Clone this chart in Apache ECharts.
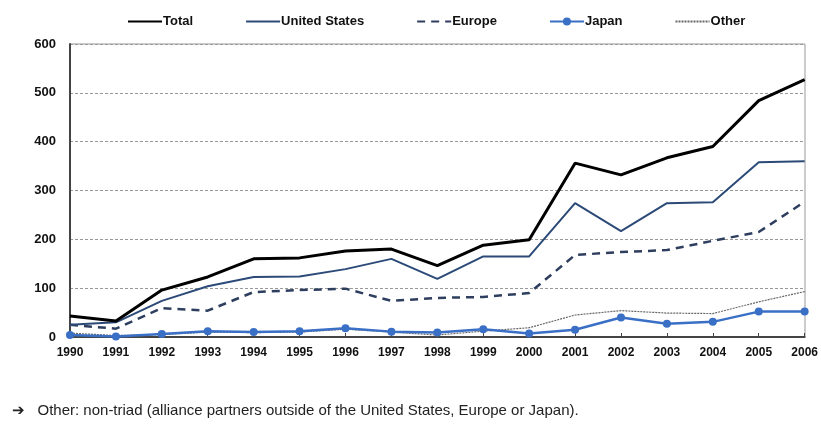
<!DOCTYPE html>
<html>
<head>
<meta charset="utf-8">
<script src="https://cdn.jsdelivr.net/npm/echarts@6/dist/echarts.min.js"></script>
<style>
  body { margin: 0; background: #fff; }
  #main { width: 821px; height: 425px; }
</style>
</head>
<body>
<div id="main"></div>
<script>
// years on the x axis
var years = ['1990','1991','1992','1993','1994','1995','1996','1997','1998',
             '1999','2000','2001','2002','2003','2004','2005','2006'];

// series values
var total  = [43, 33, 96, 123, 160, 162, 176, 180, 146, 188, 199, 356, 332, 367, 390, 484, 527];
var usa    = [25, 30, 74, 104, 123, 124, 139, 160, 119, 165, 165, 274, 217, 274, 276, 358, 360];
var europe = [25, 17, 59, 54, 92, 96, 99, 74, 80, 82, 90, 168, 174, 178, 197, 215, 277];
var japan  = [4, 1, 6, 12, 10, 12, 18, 11, 9, 16, 7, 15, 40, 27, 31, 52, 52];
var other  = [8, 3, 5, 10, 9, 10, 16, 10, 4, 12, 19, 45, 54, 49, 48, 72, 93];

var note = '\u2794   Other: non-triad (alliance partners outside of the United States, Europe or Japan).';

var chart = echarts.init(document.getElementById('main'));

var fnt = '"Liberation Sans Narrow", "Liberation Sans", Arial, sans-serif';

var noMark = { opacity: 0 };

var option = {
	backgroundColor: '#fff',
	animation: false,
	textStyle: { fontFamily: fnt },
	legend: {
		top: 10,
		left: 122,
		itemWidth: 34,
		itemHeight: 10,
		itemGap: 52,
		textStyle: { fontFamily: fnt, fontWeight: 'bold', fontSize: 13, color: '#111', padding: [0, 0, 0, -4] },
		data: [
			{ name: 'Total', itemStyle: noMark },
			{ name: 'United States', itemStyle: noMark },
			{ name: 'Europe', itemStyle: noMark },
			{ name: 'Japan' },
			{ name: 'Other', itemStyle: noMark }
		]
	},
	grid: { left: 70, right: 16, top: 44, bottom: 88 },
	graphic: [{
		type: 'text',
		left: 12,
		top: 403,
		style: { text: note, font: '15px "Liberation Sans", Arial, sans-serif', fill: '#222' }
	}, {
		// plot-area border (top and right)
		type: 'rect',
		shape: { x: 70, y: 44, width: 735, height: 293 },
		style: { fill: 'none', stroke: '#999', lineWidth: 1 },
		silent: true
	}],
	xAxis: {
		type: 'category',
		data: years,
		boundaryGap: false,
		axisLine: { lineStyle: { color: '#444', width: 2 } },
		axisTick: { show: true, inside: true, length: 4, lineStyle: { color: '#444' } },
		axisLabel: { fontFamily: fnt, fontWeight: 'bold', fontSize: 12, color: '#111', margin: 10 }
	},
	yAxis: {
		type: 'value',
		min: 0,
		max: 600,
		interval: 100,
		axisLine: { show: true, lineStyle: { color: '#444', width: 2 } },
		axisTick: { show: false },
		axisLabel: { fontFamily: fnt, fontWeight: 'bold', fontSize: 13, color: '#111', margin: 14 },
		splitLine: { lineStyle: { color: '#999', type: [3, 2], width: 1 } }
	},
	series: [
		{ name: 'Total', type: 'line', data: total, symbol: 'none', z: 5,
		  lineStyle: { color: '#000', width: 3 }, itemStyle: { color: '#000' } },
		{ name: 'United States', type: 'line', data: usa, symbol: 'none', z: 4,
		  lineStyle: { color: '#2c4a78', width: 2 }, itemStyle: { color: '#2c4a78' } },
		{ name: 'Europe', type: 'line', data: europe, symbol: 'none', z: 3,
		  lineStyle: { color: '#2e3e5e', width: 2.5, type: [8, 6] }, itemStyle: { color: '#2e3e5e' } },
		{ name: 'Japan', type: 'line', data: japan, symbol: 'circle', symbolSize: 8, z: 6,
		  lineStyle: { color: '#3a6fc6', width: 2.5 }, itemStyle: { color: '#3a6fc6' } },
		{ name: 'Other', type: 'line', data: other, symbol: 'none', z: 2,
		  lineStyle: { color: '#666', width: 1.2, type: [2, 1] }, itemStyle: { color: '#666' } }
	]
};

chart.setOption(option);
</script>
</body>
</html>
